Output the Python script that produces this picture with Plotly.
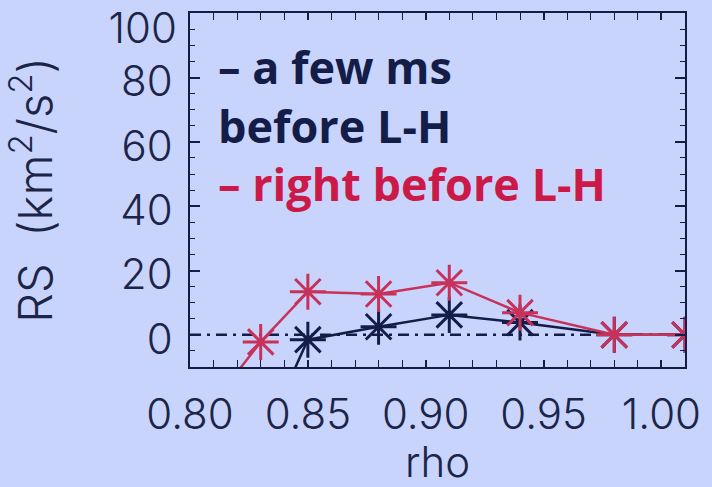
import plotly.graph_objects as go

# Reynolds stress profiles versus normalised radius
rho_few_ms = [0.83, 0.85, 0.88, 0.91, 0.94, 0.98, 1.01]
rs_few_ms = [-34.0, -1.5, 2.5, 6.2, 3.8, 0.0, 0.0]

rho_right = [0.81, 0.83, 0.85, 0.88, 0.91, 0.94, 0.98, 1.01]
rs_right = [-21.0, -2.2, 13.4, 12.7, 16.2, 6.9, 0.0, 0.0]

x_ticks = [0.80, 0.85, 0.90, 0.95, 1.00]
x_tick_text = ["0.80", "0.85", "0.90", "0.95", "1.00"]
y_ticks = [0, 20, 40, 60, 80, 100]
y_top = y_ticks[-1]

BG = "#c8d4fc"
NAVY = "#141c48"
RED = "#c8325a"
RED_TEXT = "#cc1a48"
TICK_FONT = dict(family="Inter", size=42, color="#1c2448", weight=300)
TITLE_FONT = dict(family="Inter", size=47, color="#1c2448", weight=300)

fig = go.Figure()

# zero reference line
fig.add_trace(go.Scatter(
    x=[0.80, 1.01], y=[0, 0], mode="lines",
    line=dict(color=NAVY, width=2.5, dash="11px,6px,3px,6px"),
    hoverinfo="skip", showlegend=False,
))

fig.add_trace(go.Scatter(
    x=rho_few_ms, y=rs_few_ms, mode="lines+markers",
    line=dict(color=NAVY, width=2.5),
    marker=dict(symbol="asterisk-open", size=30, color=NAVY,
                line=dict(color=NAVY, width=3)),
    showlegend=False,
))

fig.add_trace(go.Scatter(
    x=rho_right, y=rs_right, mode="lines+markers",
    line=dict(color=RED, width=2.5),
    marker=dict(symbol="asterisk-open", size=30, color=RED,
                line=dict(color=RED, width=3)),
    showlegend=False,
))

# in-plot key, one block of three lines
legend_text = (
    "\u2013 a few ms<br>before L-H<br>"
    f"<span style='color:{RED_TEXT}'>\u2013 right before L-H</span>"
)
fig.add_annotation(
    text=legend_text, xref="paper", yref="paper", x=0.052, y=0.684,
    xanchor="left", yanchor="middle", align="left", showarrow=False,
    font=dict(family="Open Sans", size=45, color=NAVY, weight="bold"),
)

axis_common = dict(
    showgrid=False, zeroline=False, showline=True, linecolor=NAVY,
    linewidth=2, mirror="allticks", ticks="inside", tickcolor=NAVY,
    tickfont=TICK_FONT, ticklabeloverflow="allow", automargin=False,
)

fig.update_xaxes(
    range=[0.80, 1.01], tickvals=x_ticks, ticktext=x_tick_text,
    ticklen=7, tickwidth=1.5, ticklabelstandoff=10,
    minor=dict(dtick=0.01, tick0=0.80, ticks="inside", ticklen=4,
               tickwidth=1.2, tickcolor=NAVY),
    title=dict(text="rho", font=TICK_FONT, standoff=18),
    **axis_common,
)
# the top label is nudged down on its own axis so it stays on the page
fig.update_yaxes(
    range=[-10, 100.05], tickvals=y_ticks,
    ticktext=[str(v) if v != y_top else "" for v in y_ticks],
    ticklen=10, tickwidth=1.5, ticklabelshift=4, ticklabelstandoff=7,
    minor=dict(dtick=5, tick0=0, ticks="inside", ticklen=5,
               tickwidth=1.2, tickcolor=NAVY),
    title=dict(text="RS  (km<sup>2</sup>/s<sup>2</sup>)", font=TITLE_FONT,
               standoff=54),
    **axis_common,
)
fig.update_layout(
    yaxis2=dict(
        overlaying="y", side="left", range=[-10, 100.05],
        tickvals=[y_top], ticktext=[str(y_top)], ticks="",
        showline=False, showgrid=False, zeroline=False,
        tickfont=TICK_FONT, ticklabelshift=15, ticklabelstandoff=12,
        ticklabeloverflow="allow", automargin=False,
    ),
)
fig.add_trace(go.Scatter(
    x=[], y=[], yaxis="y2", showlegend=False, hoverinfo="skip",
))

fig.update_layout(
    width=712, height=487,
    margin=dict(l=190, r=27, t=13, b=120),
    paper_bgcolor=BG, plot_bgcolor=BG,
)

fig.write_html("out.html")
